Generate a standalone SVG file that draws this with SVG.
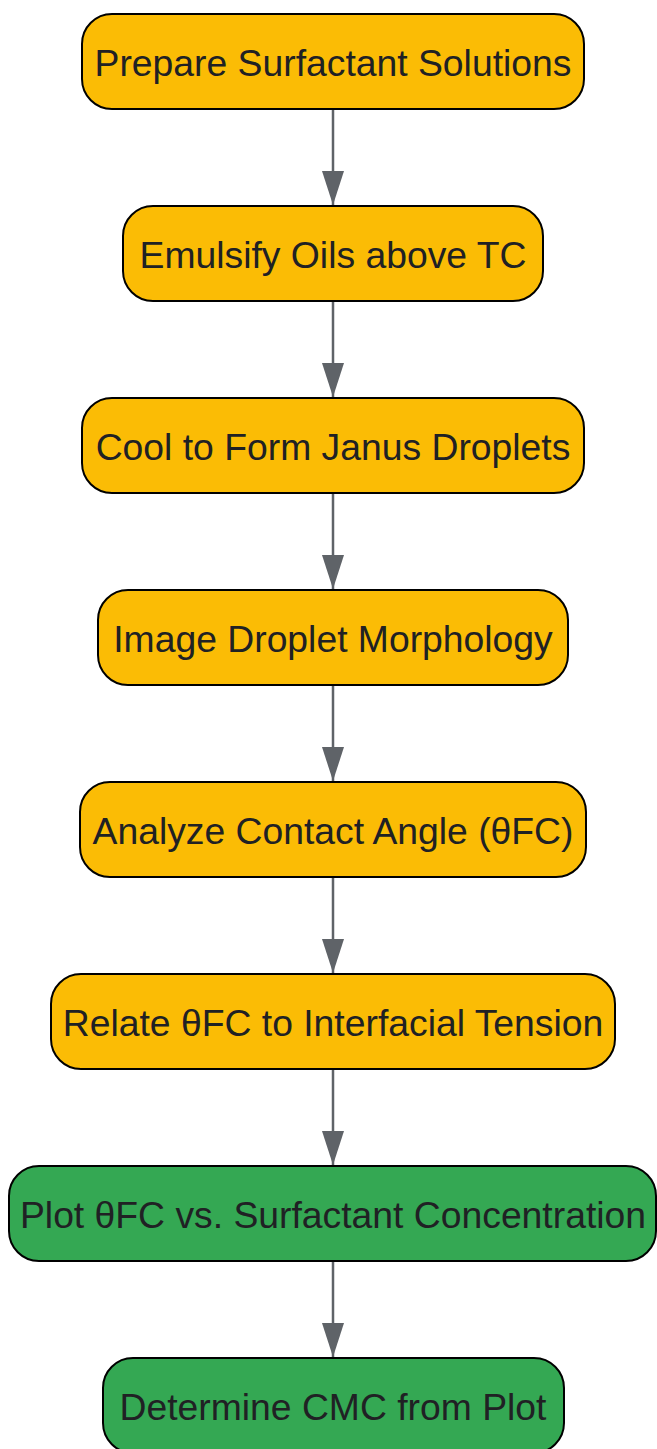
<svg xmlns="http://www.w3.org/2000/svg" width="657" height="1449" viewBox="0 0 657 1449">
<defs>
<style>
.n rect{stroke:#000;stroke-width:2}
.y rect{fill:#FBBC05}
.g rect{fill:#34A853}
.n text{font-family:"Liberation Sans",Arial,sans-serif;font-size:37.3px;fill:#202124;text-anchor:middle}
.e line{stroke:#5F6368;stroke-width:2.5}
</style>
<marker id="ah" viewBox="0 0 34 22" refX="34" refY="11" markerWidth="34" markerHeight="22" markerUnits="userSpaceOnUse" orient="auto">
<path d="M0,0 L34,11 L0,22 Z" fill="#5F6368"/>
</marker>
</defs>
<g id="edges" class="e">
<line x1="333" y1="110" x2="333" y2="205" marker-end="url(#ah)"/>
<line x1="333" y1="302" x2="333" y2="397" marker-end="url(#ah)"/>
<line x1="333" y1="494" x2="333" y2="589" marker-end="url(#ah)"/>
<line x1="333" y1="686" x2="333" y2="781" marker-end="url(#ah)"/>
<line x1="333" y1="878" x2="333" y2="973" marker-end="url(#ah)"/>
<line x1="333" y1="1070" x2="333" y2="1165" marker-end="url(#ah)"/>
<line x1="333" y1="1262" x2="333" y2="1357" marker-end="url(#ah)"/>
</g>
<g id="n1" class="n y"><rect x="82" y="14" width="502" height="95" rx="30"/><text x="333" y="76">Prepare Surfactant Solutions</text></g>
<g id="n2" class="n y"><rect x="123" y="206" width="420" height="95" rx="30"/><text x="333" y="268">Emulsify Oils above TC</text></g>
<g id="n3" class="n y"><rect x="82" y="398" width="502" height="95" rx="30"/><text x="333" y="460">Cool to Form Janus Droplets</text></g>
<g id="n4" class="n y"><rect x="98" y="590" width="470" height="95" rx="30"/><text x="333" y="652">Image Droplet Morphology</text></g>
<g id="n5" class="n y"><rect x="80" y="782" width="506" height="95" rx="30"/><text x="333" y="844">Analyze Contact Angle (θFC)</text></g>
<g id="n6" class="n y"><rect x="51" y="974" width="564" height="95" rx="30"/><text x="333" y="1036">Relate θFC to Interfacial Tension</text></g>
<g id="n7" class="n g"><rect x="9" y="1166" width="647" height="95" rx="30"/><text x="333" y="1228">Plot θFC vs. Surfactant Concentration</text></g>
<g id="n8" class="n g"><rect x="103" y="1358" width="461" height="95" rx="30"/><text x="333" y="1420">Determine CMC from Plot</text></g>
</svg>
